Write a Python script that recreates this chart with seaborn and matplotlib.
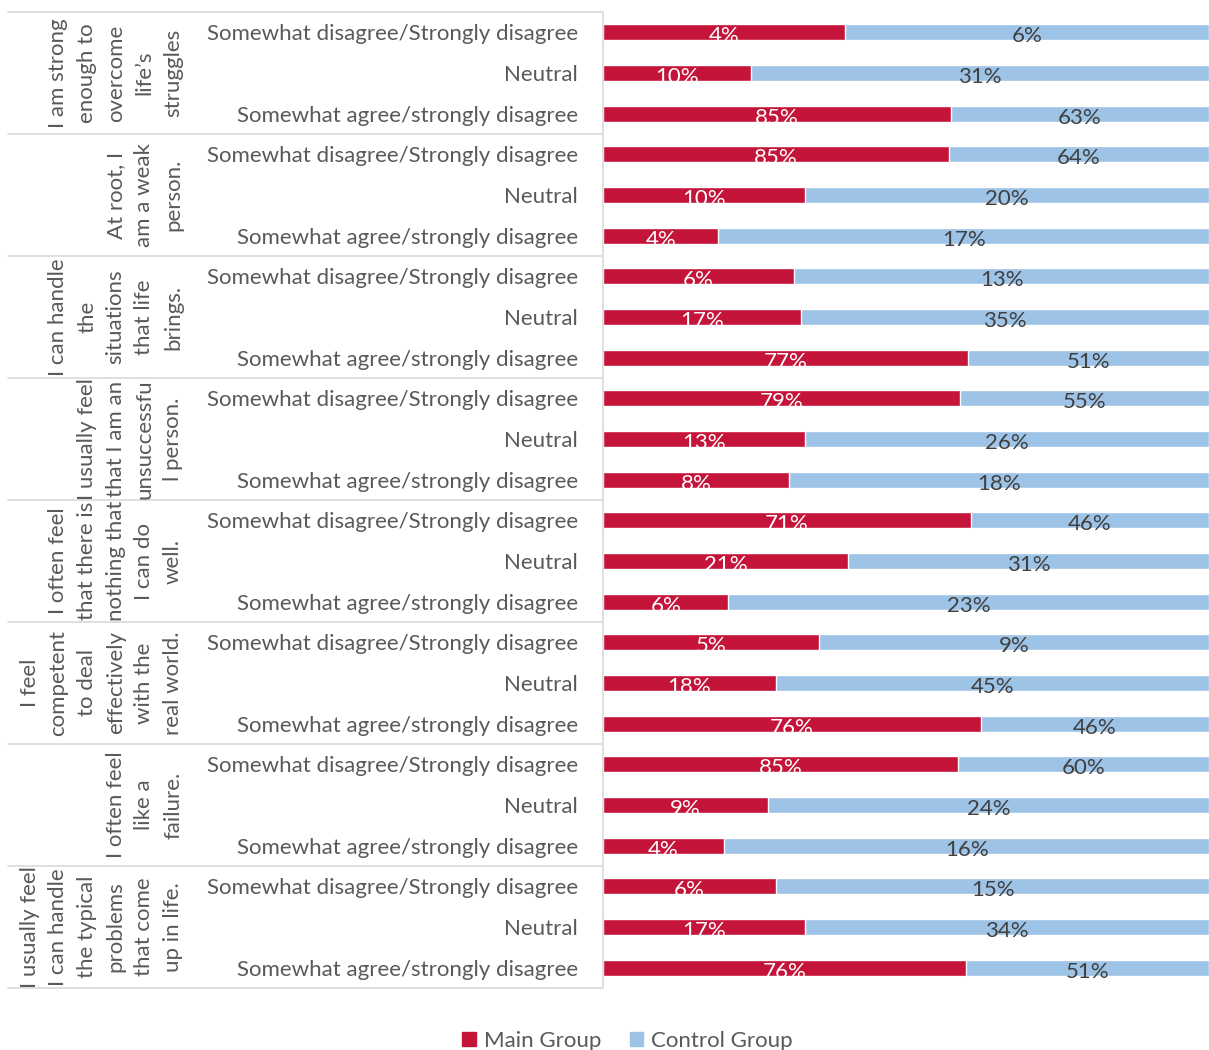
import matplotlib
matplotlib.use("Agg")
import matplotlib.pyplot as plt
from matplotlib.patches import Patch
import seaborn as sns
import pandas as pd

# Survey statements (wrapped as they appear in the group column)
statements = [
    "I am strong\nenough to\novercome\nlife\u2019s\nstruggles",
    "At root, I\nam a weak\nperson.",
    "I can handle\nthe\nsituations\nthat life\nbrings.",
    "I usually feel\nthat I am an\nunsuccessfu\nl person.",
    "I often feel\nthat there is\nnothing that\nI can do\nwell.",
    "I feel\ncompetent\nto deal\neffectively\nwith the\nreal world.",
    "I often feel\nlike a\nfailure.",
    "I usually feel\nI can handle\nthe typical\nproblems\nthat come\nup in life.",
]
responses = [
    "Somewhat disagree/Strongly disagree",
    "Neutral",
    "Somewhat agree/strongly disagree",
]
# Percentages per statement, in the order of `responses`
main_group = [
    [4, 10, 85],
    [85, 10, 4],
    [6, 17, 77],
    [79, 13, 8],
    [71, 21, 6],
    [5, 18, 76],
    [85, 9, 4],
    [6, 17, 76],
]
control_group = [
    [6, 31, 63],
    [64, 20, 17],
    [13, 35, 51],
    [55, 26, 18],
    [46, 31, 23],
    [9, 45, 46],
    [60, 24, 16],
    [15, 34, 51],
]

RED = "#C5143A"
BLUE = "#9DC3E6"
TEXT = "#595959"
GRID = "#D9D9D9"
FS = 16

sns.set_theme(style="white")
plt.rcParams["font.family"] = ["Lato", "DejaVu Sans"]

rows = []
for g, stmt in enumerate(statements):
    for r, resp in enumerate(responses):
        m = main_group[g][r]
        c = control_group[g][r]
        rows.append({
            "row": f"{g}-{r}",
            "response": resp,
            "main": m,
            "control": c,
            "main_share": m / (m + c),
            "total": 1.0,
        })
df = pd.DataFrame(rows)
order = list(df["row"])

fig = plt.figure(figsize=(12.09, 10.5), dpi=100)
W, H = 1209, 1050
ax = fig.add_axes([603 / W, 1 - 988 / H, 606 / W, 976 / H])

# 100% stacked: control share spans the full bar, main share drawn over it
sns.barplot(data=df, x="total", y="row", order=order, orient="h",
            color=BLUE, width=0.4, saturation=1, ax=ax, errorbar=None)
sns.barplot(data=df, x="main_share", y="row", order=order, orient="h",
            color=RED, width=0.4, saturation=1, ax=ax, errorbar=None)

ax.set_xlim(0, 1)
ax.set_ylim(len(order) - 0.5, -0.5)
ax.set_xlabel("")
ax.set_ylabel("")
ax.set_xticks([])
ax.set_yticks(range(len(order)))
ax.set_yticklabels(df["response"], fontsize=FS, color=TEXT)
ax.tick_params(axis="y", length=0, pad=18)
for s in ["top", "right", "bottom"]:
    ax.spines[s].set_visible(False)
ax.spines["left"].set_color(GRID)
ax.spines["left"].set_linewidth(1.2)

# value labels centred in each segment
for i, rec in df.iterrows():
    ms = rec["main_share"]
    ax.text(ms / 2, i + 0.1, f"{rec['main']}%", ha="center", va="center",
            color="white", fontsize=FS)
    ax.text(ms + (1 - ms) / 2, i + 0.1, f"{rec['control']}%", ha="center",
            va="center", color="#404040", fontsize=FS)

# group separators and statement labels
tr = ax.get_yaxis_transform()
x_left = (8 - 603) / 606
for g in range(len(statements) + 1):
    y = g * 3 - 0.5
    ax.plot([x_left, -0.002], [y, y], transform=tr, color=GRID, lw=1.2,
            clip_on=False)
for g, stmt in enumerate(statements):
    ax.text((183 - 603) / 606, g * 3 + 1, stmt, transform=tr, rotation=90,
            ha="right", va="center", multialignment="center",
            fontsize=FS, color=TEXT, linespacing=1.54)

handles = [Patch(color=RED, label="Main Group"),
           Patch(color=BLUE, label="Control Group")]
fig.legend(handles=handles, loc="lower center", ncol=2,
           bbox_to_anchor=(0.519, -0.02), frameon=False, fontsize=FS,
           handlelength=0.6, handleheight=0.6, handletextpad=0.35,
           columnspacing=1.3, labelcolor=TEXT)

fig.savefig("out.png", dpi=100)
